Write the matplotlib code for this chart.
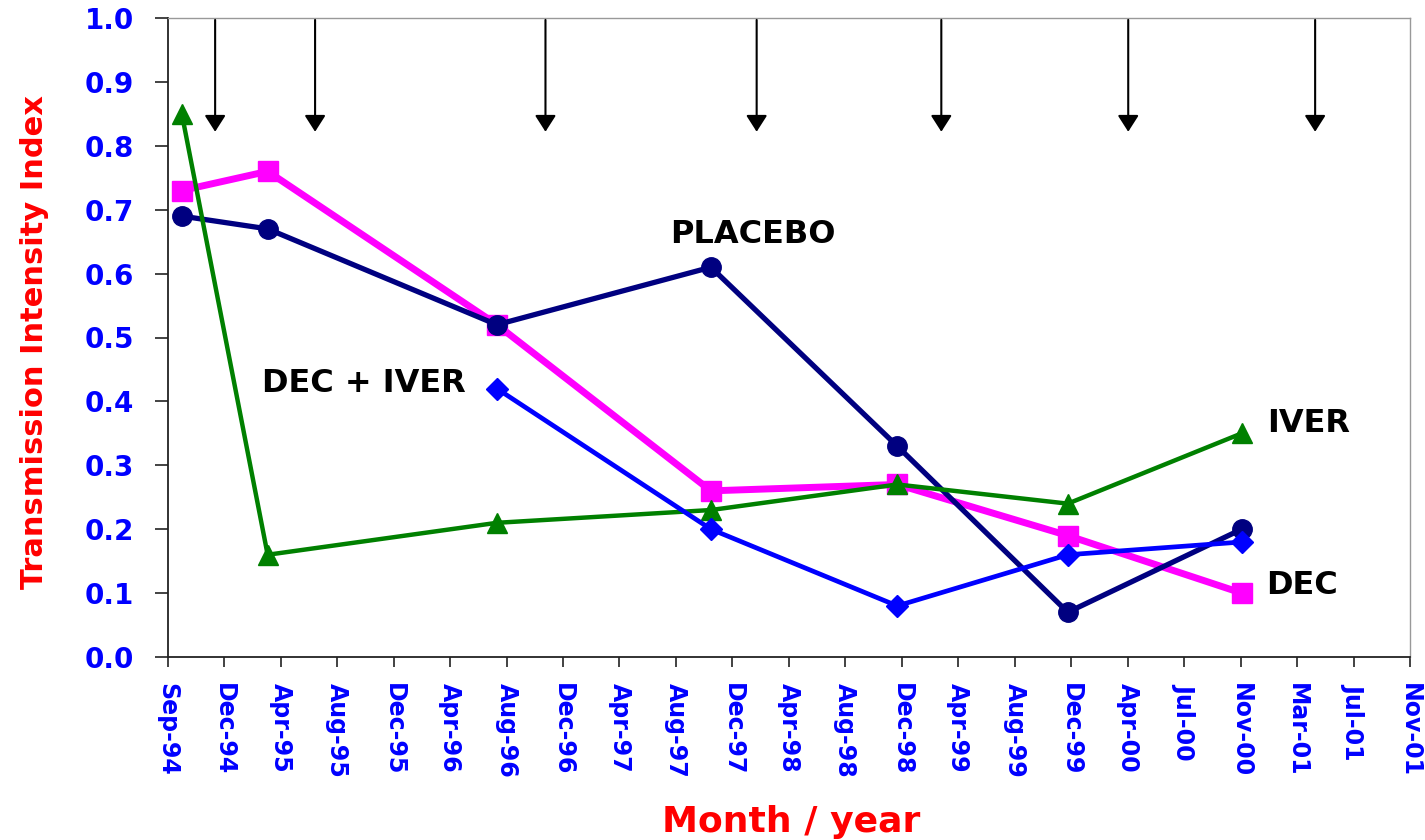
import matplotlib
matplotlib.use("Agg")
import matplotlib.pyplot as plt

# ---- data ----
month_labels = ["Sep-94", "Dec-94", "Apr-95", "Aug-95", "Dec-95", "Apr-96", "Aug-96",
                "Dec-96", "Apr-97", "Aug-97", "Dec-97", "Apr-98", "Aug-98", "Dec-98",
                "Apr-99", "Aug-99", "Dec-99", "Apr-00", "Jul-00", "Nov-00", "Mar-01",
                "Jul-01", "Nov-01"]

# survey positions on the category axis (index units)
survey_x = [0.25, 1.77, 5.83, 9.62, 12.92, 15.94, 19.02]
placebo = [0.69, 0.67, 0.52, 0.61, 0.33, 0.07, 0.20]
dec = [0.73, 0.76, 0.52, 0.26, 0.27, 0.19, 0.10]
iver = [0.85, 0.16, 0.21, 0.23, 0.27, 0.24, 0.35]
dec_iver_x = [5.83, 9.62, 12.92, 15.94, 19.02]
dec_iver = [0.42, 0.20, 0.08, 0.16, 0.18]

# treatment rounds (arrows)
treatment_x = [0.84, 2.61, 6.69, 10.43, 13.70, 17.01, 20.32]
arrow_top = 0.997
arrow_tip = 0.822

y_ticks = [0.0, 0.1, 0.2, 0.3, 0.4, 0.5, 0.6, 0.7, 0.8, 0.9, 1.0]

plt.rcParams['font.family'] = ['DejaVu Sans']

fig = plt.figure(figsize=(14.25, 8.4), dpi=100)
ax = fig.add_axes([167.7 / 1425, 183 / 840, 1242.3 / 1425, 639 / 840])

ax.plot(survey_x, dec, color='#FF00FF', lw=5.0, marker='s', ms=15, zorder=2)
ax.plot(survey_x, placebo, color='#000080', lw=3.8, marker='o', ms=14, zorder=3)
ax.plot(survey_x, iver, color='#008000', lw=3.2, marker='^', ms=15, zorder=4)
ax.plot(dec_iver_x, dec_iver, color='#0000FF', lw=3.4, marker='D', ms=11, zorder=5)

for tx in treatment_x:
    ax.annotate('', xy=(tx, arrow_tip), xytext=(tx, arrow_top),
                arrowprops=dict(arrowstyle='-|>,head_length=0.5,head_width=0.32',
                                color='black', lw=1.5, mutation_scale=20,
                                shrinkA=0, shrinkB=0), zorder=6)

txt_kw = dict(fontsize=23, fontweight='bold', color='black', va='baseline', ha='left')
ax.text(8.895, 0.6485, 'PLACEBO', **txt_kw)
ax.text(1.665, 0.4153, 'DEC + IVER', **txt_kw)
ax.text(19.47, 0.3527, 'IVER', **txt_kw)
ax.text(19.45, 0.0992, 'DEC', **txt_kw)

ax.set_xlim(0, 22)
ax.set_ylim(0, 1.0)
ax.set_xticks(range(len(month_labels)))
ax.set_xticklabels(month_labels, rotation=-90, ha='center', va='top',
                   fontsize=17, fontweight='bold', color='#0000FF')
ax.set_yticks(y_ticks)
ax.set_yticklabels([f"{v:.1f}" for v in y_ticks], fontsize=20,
                   fontweight='bold', color='#0000FF')
ax.tick_params(axis='x', direction='out', length=7.5, width=1.2, pad=11, color='#222222')
ax.tick_params(axis='y', direction='out', length=9.5, width=1.2, pad=15, color='#222222')

for s in ['left', 'bottom']:
    ax.spines[s].set_color('#222222')
    ax.spines[s].set_linewidth(1.3)
for s in ['top', 'right']:
    ax.spines[s].set_color('#999999')
    ax.spines[s].set_linewidth(1.0)

fig.text(35 / 1425, 1 - 342 / 840, 'Transmission Intensity Index', rotation=90,
         ha='center', va='center', fontsize=22, fontweight='bold', color='#FF0000')
fig.text(791.5 / 1425, 1 - 832 / 840, 'Month / year', ha='center', va='baseline',
         fontsize=26, fontweight='bold', color='#FF0000')

fig.savefig('out.png', dpi=100)
